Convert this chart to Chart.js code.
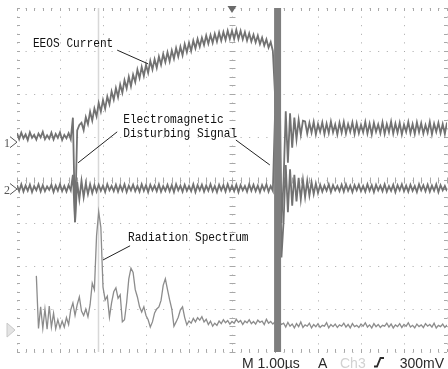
<!DOCTYPE html>
<html><head><meta charset="utf-8">
<script src="https://cdn.jsdelivr.net/npm/chart.js@4.4.1/dist/chart.umd.min.js"></script>
<style>html,body{margin:0;padding:0;background:#fff;}canvas{display:block;}</style>
</head><body>
<canvas id="c" width="448" height="369"></canvas>
<script>
// Record: 1.00 us/div, 10 divisions, trigger at centre. Values in screen divisions.
const recordStartUs = -5;
const sampleStepUs = 0.05;

const ch1Current = [
1.09,0.95,1.10,0.97,1.06,0.93,1.11,0.98,1.05,0.94,
1.08,0.99,1.12,0.95,1.04,0.96,1.10,0.94,1.07,0.98,
1.11,0.93,1.05,0.97,1.09,0.95,1.45,-0.98,1.15,1.28,
1.33,1.16,1.46,1.30,1.59,1.38,1.66,1.48,1.79,1.59,
1.86,1.66,1.94,1.76,2.06,1.87,2.14,1.93,2.22,2.03,
2.32,2.13,2.40,2.18,2.45,2.28,2.57,2.37,2.63,2.42,
2.68,2.49,2.77,2.57,2.81,2.61,2.87,2.68,2.93,2.74,
2.97,2.76,3.01,2.82,3.07,2.87,3.10,2.90,3.16,2.97,
3.19,3.00,3.24,3.06,3.28,3.10,3.31,3.14,3.36,3.17,
3.37,3.19,3.40,3.22,3.43,3.24,3.44,3.26,3.47,3.28,
3.47,3.28,3.49,3.28,3.47,3.27,3.44,3.24,3.41,3.22,
3.38,3.20,3.36,3.16,3.31,3.13,3.27,3.08,3.21,3.00,
2.00,-1.50,3.00,-1.00,0.00,1.60,0.40,1.55,0.75,1.45,
0.95,1.40,1.05,1.38,1.36,1.08,1.33,1.10,1.35,1.06,
1.30,1.12,1.34,1.07,1.31,1.09,1.36,1.11,1.29,1.06,
1.33,1.10,1.35,1.08,1.30,1.12,1.34,1.07,1.32,1.09,
1.28,1.11,1.35,1.08,1.31,1.06,1.33,1.12,1.29,1.09,
1.34,1.07,1.30,1.11,1.36,1.08,1.31,1.10,1.33,1.06,
1.29,1.12,1.35,1.09,1.30,1.07,1.34,1.11,1.32,1.08,
1.28,1.10,1.35,1.06,1.31,1.12,1.33,1.09,1.30,1.07,
1.34
];

const ch2Disturbance = [
-0.12,-0.26,-0.10,-0.27,-0.13,-0.25,-0.11,-0.28,-0.14,-0.24,
-0.10,-0.27,-0.12,-0.26,-0.15,-0.23,-0.11,-0.28,-0.13,-0.25,
-0.10,-0.26,-0.14,-0.27,-0.12,-0.24,0.12,-0.98,-0.05,-0.45,
-0.02,-0.40,-0.08,-0.33,-0.10,-0.30,-0.12,-0.27,-0.11,-0.25,
-0.13,-0.28,-0.10,-0.24,-0.14,-0.26,-0.11,-0.27,-0.12,-0.25,
-0.10,-0.28,-0.13,-0.24,-0.11,-0.26,-0.14,-0.27,-0.10,-0.25,
-0.12,-0.28,-0.11,-0.24,-0.13,-0.26,-0.10,-0.27,-0.14,-0.25,
-0.11,-0.26,-0.12,-0.28,-0.10,-0.24,-0.13,-0.27,-0.11,-0.25,
-0.14,-0.26,-0.10,-0.28,-0.12,-0.24,-0.11,-0.27,-0.13,-0.25,
-0.10,-0.26,-0.14,-0.28,-0.11,-0.24,-0.12,-0.27,-0.10,-0.25,
-0.13,-0.26,-0.11,-0.28,-0.12,-0.24,-0.14,-0.27,-0.10,-0.25,
-0.11,-0.26,-0.13,-0.28,-0.12,-0.24,-0.10,-0.27,-0.14,-0.25,
1.50,-2.50,2.00,-1.80,-0.95,0.35,-0.75,0.25,-0.60,0.12,
-0.50,0.05,-0.45,0.00,-0.40,-0.02,-0.36,-0.05,-0.33,-0.08,
-0.30,-0.11,-0.27,-0.13,-0.25,-0.10,-0.28,-0.12,-0.24,-0.14,
-0.26,-0.11,-0.27,-0.10,-0.25,-0.13,-0.28,-0.12,-0.24,-0.11,
-0.26,-0.14,-0.27,-0.10,-0.25,-0.12,-0.28,-0.11,-0.24,-0.13,
-0.26,-0.10,-0.27,-0.14,-0.25,-0.11,-0.28,-0.12,-0.24,-0.10,
-0.26,-0.13,-0.27,-0.11,-0.25,-0.14,-0.28,-0.10,-0.24,-0.12,
-0.26,-0.11,-0.27,-0.13,-0.25,-0.10,-0.28,-0.12,-0.24,-0.14,
-0.26
];

const ch3Spectrum = [
null,null,null,null,null,null,null,null,null,-2.23,
-3.45,-2.95,-3.45,-3.00,-3.47,-2.93,-3.42,-3.10,-3.46,-3.25,
-3.44,-3.28,-3.42,-3.20,-3.36,-3.02,-2.86,-3.15,-2.90,-2.72,
-3.05,-3.15,-3.00,-3.18,-2.90,-2.40,-2.55,-1.30,-0.74,-1.10,
-2.49,-2.79,-2.70,-3.19,-2.85,-2.60,-2.51,-2.75,-2.67,-3.30,
-3.25,-2.85,-2.30,-2.05,-2.15,-2.55,-2.72,-2.95,-3.07,-2.95,
-3.15,-3.25,-3.42,-3.30,-3.09,-3.00,-2.95,-2.80,-2.45,-2.30,
-2.55,-2.79,-3.00,-3.40,-3.30,-3.19,-3.02,-2.95,-3.20,-3.37,
-3.28,-3.33,-3.22,-3.30,-3.20,-3.26,-3.18,-3.30,-3.24,-3.36,
-3.28,-3.40,-3.33,-3.38,-3.28,-3.34,-3.25,-3.32,-3.27,-3.35,
-3.29,-3.33,-3.24,-3.31,-3.27,-3.36,-3.28,-3.32,-3.25,-3.34,
-3.29,-3.35,-3.26,-3.31,-3.28,-3.36,-3.24,-3.33,-3.29,-3.35,
-3.30,-3.34,-3.28,-3.36,-3.33,-3.42,-3.31,-3.40,-3.35,-3.44,
-3.34,-3.41,-3.30,-3.43,-3.37,-3.40,-3.33,-3.44,-3.36,-3.41,
-3.34,-3.43,-3.38,-3.40,-3.32,-3.44,-3.36,-3.41,-3.35,-3.43,
-3.37,-3.40,-3.33,-3.42,-3.36,-3.44,-3.34,-3.41,-3.38,-3.43,
-3.35,-3.40,-3.32,-3.42,-3.37,-3.44,-3.34,-3.41,-3.36,-3.43,
-3.38,-3.40,-3.33,-3.42,-3.35,-3.44,-3.37,-3.41,-3.34,-3.43,
-3.36,-3.40,-3.32,-3.42,-3.38,-3.44,-3.35,-3.41,-3.37,-3.43,
-3.34,-3.40,-3.36,-3.42,-3.33,-3.44,-3.38,-3.41,-3.35,-3.43,
-3.37
];

const burstTimeUs = 1.06;      // saturated burst (thick bar)
const cursorTimeUs = -3.12;    // faint cursor line
const triggerTimeUs = 0;
const ch1Ground = 0.88;
const ch2Ground = -0.21;
const ch3Ground = -3.49;
const labelTexts = ['EEOS Current', 'Electromagnetic', 'Disturbing Signal', 'Radiation Spectrum'];
const statusTexts = ['M 1.00µs', 'A', 'Ch3', '300mV'];

const sampleTimes = [];
for (let i = 0; i < ch1Current.length; i++) sampleTimes.push(+(recordStartUs + i * sampleStepUs).toFixed(3));
const toPoints = arr => arr.map((v, i) => ({x: sampleTimes[i], y: v}));

const scopePlugin = {
  id: 'scope',
  beforeDatasetsDraw(chart) {
    const {ctx, chartArea: a, scales: {x, y}} = chart;
    ctx.save();
    const cx = Math.round(x.getPixelForValue(cursorTimeUs)) + 0.5;
    ctx.strokeStyle = '#d8d8d8'; ctx.lineWidth = 1.5;
    ctx.beginPath(); ctx.moveTo(cx, a.top); ctx.lineTo(cx, a.bottom); ctx.stroke();
    ctx.strokeStyle = '#a8a8a8'; ctx.lineWidth = 1;
    const y0 = Math.round(y.getPixelForValue(0)) + 0.5;
    const x0 = Math.round(x.getPixelForValue(triggerTimeUs)) + 0.5;
    ctx.beginPath();
    for (let k = -25; k <= 25; k++) {
      const px = Math.round(x.getPixelForValue(k * 0.2)) + 0.5;
      ctx.moveTo(px, y0 - 3); ctx.lineTo(px, y0 + 3);
      ctx.moveTo(px, a.top); ctx.lineTo(px, a.top + 3);
      ctx.moveTo(px, a.bottom - 3); ctx.lineTo(px, a.bottom);
    }
    for (let k = -20; k <= 20; k++) {
      const py = Math.round(y.getPixelForValue(k * 0.2)) + 0.5;
      ctx.moveTo(x0 - 3, py); ctx.lineTo(x0 + 3, py);
      ctx.moveTo(a.left, py); ctx.lineTo(a.left + 3, py);
      ctx.moveTo(a.right - 3, py); ctx.lineTo(a.right, py);
    }
    ctx.stroke();
    ctx.restore();
  },
  afterDraw(chart) {
    const {ctx, chartArea: a, scales: {x, y}} = chart;
    const P = (t, v) => [x.getPixelForValue(t), y.getPixelForValue(v)];
    ctx.save();
    ctx.fillStyle = '#111';
    ctx.font = '13.5px "Liberation Mono", monospace';
    ctx.textBaseline = 'alphabetic';
    const label = (txt, t, v) => { const [px, py] = P(t, v); ctx.fillText(txt, px, py, txt.length * 6.7); };
    label(labelTexts[0], -4.63, 3.09);
    label(labelTexts[1], -2.53, 1.33);
    label(labelTexts[2], -2.53, 0.99);
    label(labelTexts[3], -2.42, -1.43);
    ctx.strokeStyle = '#222'; ctx.lineWidth = 1;
    const seg = (t1, v1, t2, v2) => { const p = P(t1, v1), q = P(t2, v2); ctx.beginPath(); ctx.moveTo(p[0], p[1]); ctx.lineTo(q[0], q[1]); ctx.stroke(); };
    seg(-2.67, 3.02, -1.95, 2.70);
    seg(-2.67, 1.12, -3.58, 0.40);
    seg(0.09, 0.93, 0.88, 0.35);
    seg(-2.37, -1.53, -3.0, -1.86);
    const marker = (lab, v) => {
      const py = y.getPixelForValue(v);
      ctx.strokeStyle = '#555'; ctx.lineWidth = 1;
      ctx.beginPath(); ctx.moveTo(a.left - 7, py - 5.5); ctx.lineTo(a.left, py); ctx.lineTo(a.left - 7, py + 5.5); ctx.stroke();
      ctx.fillStyle = '#555'; ctx.font = '12px "Liberation Serif", serif'; ctx.textAlign = 'right';
      ctx.fillText(lab, a.left - 7, py + 4.5);
    };
    marker('1', ch1Ground);
    marker('2', ch2Ground);
    const g3 = y.getPixelForValue(ch3Ground);
    ctx.fillStyle = '#e4e4e4'; ctx.strokeStyle = '#c8c8c8';
    ctx.beginPath(); ctx.moveTo(a.left - 10, g3 - 7); ctx.lineTo(a.left - 2, g3); ctx.lineTo(a.left - 10, g3 + 7); ctx.closePath(); ctx.fill(); ctx.stroke();
    const tx = x.getPixelForValue(triggerTimeUs);
    ctx.fillStyle = '#6a6a6a';
    ctx.beginPath(); ctx.moveTo(tx - 4.5, a.top - 2); ctx.lineTo(tx + 4.5, a.top - 2); ctx.lineTo(tx, a.top + 5); ctx.closePath(); ctx.fill();
    const sy = a.bottom + 15.5;
    ctx.textAlign = 'left';
    ctx.font = '14px "Liberation Sans", Arial, sans-serif';
    ctx.fillStyle = '#2a2a2a';
    ctx.fillText(statusTexts[0], 242, sy);
    ctx.fillText(statusTexts[1], 318, sy);
    ctx.fillStyle = '#d2d2d2';
    ctx.fillText(statusTexts[2], 340, sy);
    ctx.strokeStyle = '#2a2a2a'; ctx.lineWidth = 1.8;
    ctx.beginPath(); ctx.moveTo(374, sy - 1); ctx.lineTo(377, sy - 1); ctx.lineTo(380.5, sy - 9.5); ctx.lineTo(384, sy - 9.5); ctx.stroke();
    ctx.fillStyle = '#2a2a2a'; ctx.textAlign = 'right';
    ctx.fillText(statusTexts[3], 444, sy);
    ctx.restore();
  }
};

new Chart(document.getElementById('c'), {
  type: 'line',
  data: {
    datasets: [
      {data: [{x: burstTimeUs, y: -4}, {x: burstTimeUs, y: 4}], borderColor: '#7e7e7e', borderWidth: 7, borderCapStyle: 'butt', order: 0},
      {data: toPoints(ch1Current), borderColor: '#727272', borderWidth: 1.8, order: 1},
      {data: toPoints(ch2Disturbance), borderColor: '#727272', borderWidth: 1.8, order: 2},
      {data: toPoints(ch3Spectrum), borderColor: '#8c8c8c', borderWidth: 1.3, order: 3}
    ]
  },
  options: {
    responsive: false,
    animation: false,
    devicePixelRatio: 1,
    layout: {padding: {left: 17, right: 1, top: 8, bottom: 17}},
    elements: {point: {radius: 0}, line: {tension: 0}},
    plugins: {legend: {display: false}, tooltip: {enabled: false}},
    scales: {
      x: {type: 'linear', min: -5, max: 5, ticks: {display: false, stepSize: 1}, grid: {drawTicks: false, color: '#a6a6a6'}, border: {display: false, dash: [1, 7.6]}},
      y: {type: 'linear', min: -4, max: 4, ticks: {display: false, stepSize: 1}, grid: {drawTicks: false, color: '#a6a6a6'}, border: {display: false, dash: [1, 7.6]}}
    }
  },
  plugins: [scopePlugin]
});
</script>
</body></html>
